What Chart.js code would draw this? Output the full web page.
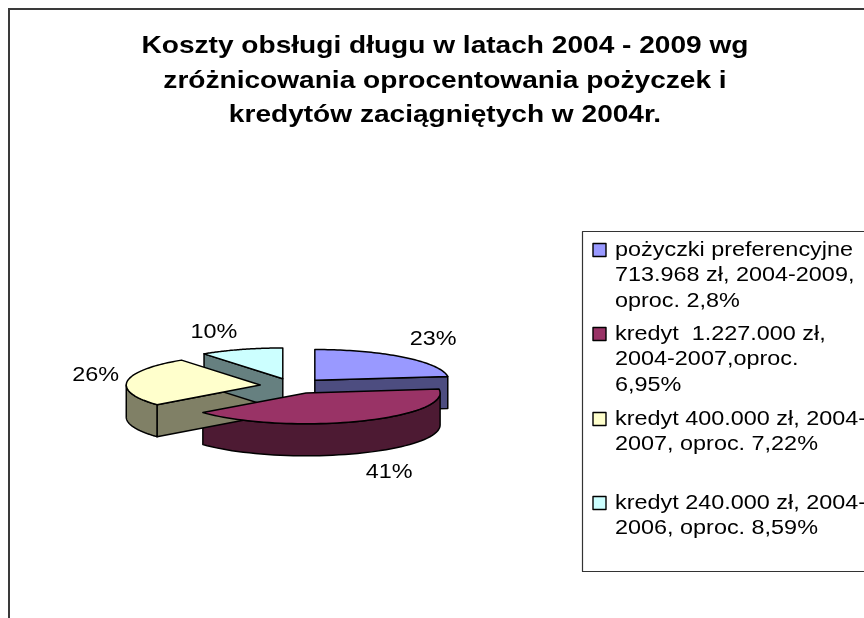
<!DOCTYPE html>
<html>
<head>
<meta charset="utf-8">
<style>html,body{margin:0;padding:0;background:#fff;overflow:hidden}canvas{display:block}</style>
<script src="https://cdn.jsdelivr.net/npm/chart.js@4/dist/chart.umd.min.js"></script>
</head>
<body>
<canvas id="c" width="864" height="618"></canvas>
<script>
const titleLines = [
  'Koszty obsługi długu w latach 2004 - 2009 wg',
  'zróżnicowania oprocentowania pożyczek i',
  'kredytów zaciągniętych w 2004r.'
];
const categories = [
  'pożyczki preferencyjne 713.968 zł, 2004-2009, oproc. 2,8%',
  'kredyt  1.227.000 zł, 2004-2007,oproc. 6,95%',
  'kredyt 400.000 zł, 2004-2007, oproc. 7,22%',
  'kredyt 240.000 zł, 2004-2006, oproc. 8,59%'
];
const legendLines = [
  ['pożyczki preferencyjne', '713.968 zł, 2004-2009,', 'oproc. 2,8%'],
  ['kredyt  1.227.000 zł,', '2004-2007,oproc.', '6,95%'],
  ['kredyt 400.000 zł, 2004-', '2007, oproc. 7,22%'],
  ['kredyt 240.000 zł, 2004-', '2006, oproc. 8,59%']
];
const shares = [23, 41, 26, 10];
const topColors = ['#9999FF', '#993366', '#FFFFCC', '#CCFFFF'];
const wallColors = ['#4D4D80', '#4D1A33', '#808066', '#668080'];

const FONT = '"Liberation Sans", Arial, sans-serif';
const STRETCH = 1.17;
const TITLE = {x: 445, baselines: [53, 87.5, 122], size: 24};
const PIE = {cx: 293, cy: 386, radius: 134, squash: 0.23, depth: 32, explode: 33};
const LABEL_RX = [179, 209, 166, 223];
const LABEL_RY = [55, 87, 75, 49];
const LEGEND = {x: 582, top: 231, bottom: 571, markerX: 593, markerSize: 13, textX: 615, lineH: 25.7, firstY: [250, 334, 419, 503]};

function wideText(ctx, text, x, y, align) {
  ctx.save();
  ctx.translate(x, y);
  ctx.scale(STRETCH, 1);
  ctx.textAlign = align;
  ctx.fillText(text, 0, 0);
  ctx.restore();
}
function project(arc, i, angle, r) {
  const mid = (arc.startAngle + arc.endAngle) / 2;
  return {
    x: PIE.cx + Math.cos(mid) * PIE.explode + Math.cos(angle) * r,
    y: PIE.cy + (Math.sin(mid) * PIE.explode + Math.sin(angle) * r) * PIE.squash
  };
}
function strokeFill(ctx, fill) {
  ctx.fillStyle = fill; ctx.fill();
  ctx.strokeStyle = '#000'; ctx.lineWidth = 1.5; ctx.lineJoin = 'round'; ctx.stroke();
}
function topPath(ctx, arc, i) {
  const r = arc.outerRadius, n = 60;
  ctx.beginPath();
  const apex = project(arc, i, 0, 0);
  ctx.moveTo(apex.x, apex.y);
  for (let k = 0; k <= n; k++) {
    const p = project(arc, i, arc.startAngle + (arc.endAngle - arc.startAngle) * k / n, r);
    ctx.lineTo(p.x, p.y);
  }
  ctx.closePath();
}
function drawWalls(ctx, arc, i) {
  const r = arc.outerRadius, a0 = arc.startAngle, a1 = arc.endAngle, d = PIE.depth;
  const apex = project(arc, i, 0, 0);
  const radial = a => {
    const p = project(arc, i, a, r);
    ctx.beginPath();
    ctx.moveTo(apex.x, apex.y); ctx.lineTo(p.x, p.y);
    ctx.lineTo(p.x, p.y + d); ctx.lineTo(apex.x, apex.y + d);
    ctx.closePath();
    strokeFill(ctx, wallColors[i]);
  };
  // A radial cut wall faces the viewer only when its outward normal points down the screen.
  if (Math.cos(a1) > 0) radial(a1);
  if (Math.cos(a0) < 0) radial(a0);
  // Outer rim: the front half of the circle only (screen angle 0..PI).
  for (const shift of [0, 2 * Math.PI, -2 * Math.PI]) {
    const s = Math.max(a0 + shift, 0), e = Math.min(a1 + shift, Math.PI);
    if (e > s) {
      const n = 50;
      ctx.beginPath();
      for (let k = 0; k <= n; k++) {
        const p = project(arc, i, s + (e - s) * k / n, r);
        k ? ctx.lineTo(p.x, p.y) : ctx.moveTo(p.x, p.y);
      }
      for (let k = n; k >= 0; k--) {
        const p = project(arc, i, s + (e - s) * k / n, r);
        ctx.lineTo(p.x, p.y + d);
      }
      ctx.closePath();
      strokeFill(ctx, wallColors[i]);
    }
  }
}

const pie3d = {
  id: 'pie3d',
  beforeDatasetDraw(chart, args) {
    const ctx = chart.ctx, arcs = args.meta.data;
    arcs.forEach((arc, i) => drawWalls(ctx, arc, i));
    arcs.forEach((arc, i) => {
      const mid = (arc.startAngle + arc.endAngle) / 2;
      ctx.save();
      ctx.translate(PIE.cx, PIE.cy);
      ctx.scale(1, PIE.squash);
      ctx.translate(Math.cos(mid) * PIE.explode - arc.x, Math.sin(mid) * PIE.explode - arc.y);
      arc.draw(ctx);
      ctx.restore();
      ctx.save();
      topPath(ctx, arc, i);
      ctx.strokeStyle = '#000'; ctx.lineWidth = 1.5; ctx.lineJoin = 'round'; ctx.stroke();
      ctx.restore();
    });
    ctx.save();
    ctx.font = '20px ' + FONT;
    ctx.fillStyle = '#000'; ctx.textBaseline = 'middle';
    arcs.forEach((arc, i) => {
      const mid = (arc.startAngle + arc.endAngle) / 2;
      const apex = project(arc, i, 0, 0);
      wideText(ctx, shares[i] + '%', apex.x + Math.cos(mid) * LABEL_RX[i], apex.y + Math.sin(mid) * LABEL_RY[i], 'center');
    });
    ctx.restore();
    return false;
  },
  beforeDraw(chart) {
    const ctx = chart.ctx;
    ctx.save();
    ctx.fillStyle = '#fff'; ctx.fillRect(0, 0, chart.width, chart.height);
    ctx.strokeStyle = '#3a3a3a'; ctx.lineWidth = 2;
    ctx.strokeRect(9, 9, chart.width + 20, chart.height + 20);
    ctx.font = 'bold ' + TITLE.size + 'px ' + FONT;
    ctx.fillStyle = '#000'; ctx.textBaseline = 'alphabetic';
    titleLines.forEach((t, k) => wideText(ctx, t, TITLE.x, TITLE.baselines[k], 'center'));
    ctx.restore();
  },
  afterDraw(chart) {
    const ctx = chart.ctx, L = LEGEND;
    ctx.save();
    ctx.strokeStyle = '#333'; ctx.lineWidth = 1.2;
    ctx.strokeRect(L.x + 0.5, L.top + 0.5, chart.width, L.bottom - L.top);
    ctx.font = '20px ' + FONT; ctx.textBaseline = 'middle';
    legendLines.forEach((lines, i) => {
      const y = L.firstY[i];
      ctx.fillStyle = topColors[i]; ctx.strokeStyle = '#000'; ctx.lineWidth = 1.4;
      ctx.fillRect(L.markerX, y - L.markerSize / 2, L.markerSize, L.markerSize);
      ctx.strokeRect(L.markerX, y - L.markerSize / 2, L.markerSize, L.markerSize);
      ctx.fillStyle = '#000';
      lines.forEach((t, k) => wideText(ctx, t, L.textX, y + k * L.lineH, 'left'));
    });
    ctx.restore();
  }
};

new Chart(document.getElementById('c'), {
  type: 'pie',
  data: {
    labels: categories,
    datasets: [{
      data: shares,
      backgroundColor: topColors,
      borderWidth: 0,
      radius: PIE.radius
    }]
  },
  options: {
    responsive: false,
    animation: false,
    plugins: {
      legend: {display: false},
      tooltip: {enabled: false},
      title: {display: false}
    }
  },
  plugins: [pie3d]
});
</script>
</body>
</html>
